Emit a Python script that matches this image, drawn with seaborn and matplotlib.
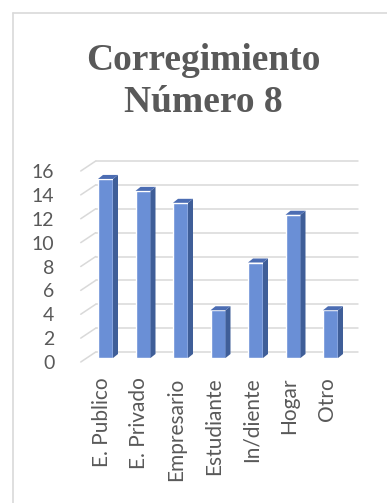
import matplotlib
matplotlib.use("Agg")
import matplotlib.pyplot as plt
import seaborn as sns
import pandas as pd
from matplotlib.lines import Line2D
from matplotlib.patches import Polygon
from matplotlib.transforms import ScaledTranslation, IdentityTransform

categories = ["E. Publico", "E. Privado", "Empresario", "Estudiante", "In/diente", "Hogar", "Otro"]
values = [15, 14, 13, 4, 8, 12, 4]
yticks = [0, 2, 4, 6, 8, 10, 12, 14, 16]
title_lines = ["Corregimiento", "Número 8"]

FRONT = "#6A8FD6"
SIDE = "#3F5E98"
TOP = "#4C6DB3"
GRID = "#D9D9D9"
TXT = "#595959"

sns.set_theme(style="white")
plt.rcParams["font.family"] = ["Lato", "DejaVu Sans"]

W, H = 387, 503
fig = plt.figure(figsize=(W / 100, H / 100), dpi=100)
ax = fig.add_axes([86.75 / W, (H - 358) / H, 262.5 / W, 191 / H])

df = pd.DataFrame({"cat": categories, "val": values})
sns.barplot(data=df, x="cat", y="val", color=FRONT, saturation=1, width=0.4, ax=ax, zorder=3)

ax.set_xlim(-0.5, len(categories) - 0.5)
ax.set_ylim(0, 16)
ax.set_yticks(yticks)
ax.set_xlabel("")
ax.set_ylabel("")
for s in ax.spines.values():
    s.set_visible(False)
ax.patch.set_alpha(0)
ax.tick_params(axis="y", length=0, pad=19, labelsize=14, labelcolor=TXT)
ax.tick_params(axis="x", length=0, pad=14, labelsize=15, labelcolor=TXT)
for lab in ax.get_xticklabels():
    lab.set_rotation(90)
    lab.set_va("top")
    lab.set_ha("center")
    lab.set_transform(lab.get_transform() + ScaledTranslation(-4 / 100, 0, fig.dpi_scale_trans))
for lab in ax.get_yticklabels():
    lab.set_transform(lab.get_transform() + ScaledTranslation(-6 / 100, -4 / 100, fig.dpi_scale_trans))

# back-wall gridlines and floor diagonals (display coordinates), behind bars
BDX, BDY = 9, 6     # back wall offset from bar plane
FDX, FDY = -6, -4   # front edge offset from bar plane
xl, xr = ax.get_xlim()
for y in yticks:
    p0 = ax.transData.transform((xl, y))
    p1 = ax.transData.transform((xr, y))
    ax.add_line(Line2D([p0[0] + BDX, p1[0] + BDX], [p0[1] + BDY, p1[1] + BDY],
                       transform=IdentityTransform(), color=GRID, lw=1.1, zorder=1, clip_on=False))
    ax.add_line(Line2D([p0[0] + FDX, p0[0] + BDX], [p0[1] + FDY, p0[1] + BDY],
                       transform=IdentityTransform(), color=GRID, lw=1.1, zorder=1, clip_on=False))

# 3D sides and tops of bars
DX, DY = 5, 4
for patch in list(ax.patches)[:len(values)]:
    x0, y0 = patch.get_x(), patch.get_y()
    x1, y1 = x0 + patch.get_width(), y0 + patch.get_height()
    a = ax.transData.transform((x0, y0))
    b = ax.transData.transform((x1, y1))
    side = Polygon([(b[0], a[1]), (b[0], b[1]), (b[0] + DX, b[1] + DY), (b[0] + DX, a[1] + DY)],
                   closed=True, transform=IdentityTransform(), facecolor=SIDE, edgecolor="none",
                   zorder=4, clip_on=False)
    top = Polygon([(a[0], b[1]), (b[0], b[1]), (b[0] + DX, b[1] + DY), (a[0] + DX, b[1] + DY)],
                  closed=True, transform=IdentityTransform(), facecolor=TOP, edgecolor="none",
                  zorder=4, clip_on=False)
    ax.add_artist(side)
    ax.add_artist(top)

# chart frame
fig.add_artist(Line2D([13 / W, 13 / W], [0, 1 - 13 / H], transform=fig.transFigure, color=GRID, lw=1.2))
fig.add_artist(Line2D([13 / W, 1], [1 - 13 / H, 1 - 13 / H], transform=fig.transFigure, color=GRID, lw=1.2))

# title
for i, line in enumerate(title_lines):
    fig.text(203 / W, 1 - (70 + 42 * i) / H, line, ha="center", va="baseline",
             fontfamily="Liberation Serif", fontweight="bold", fontsize=27, color=TXT)

fig.savefig("out.png", dpi=100)
